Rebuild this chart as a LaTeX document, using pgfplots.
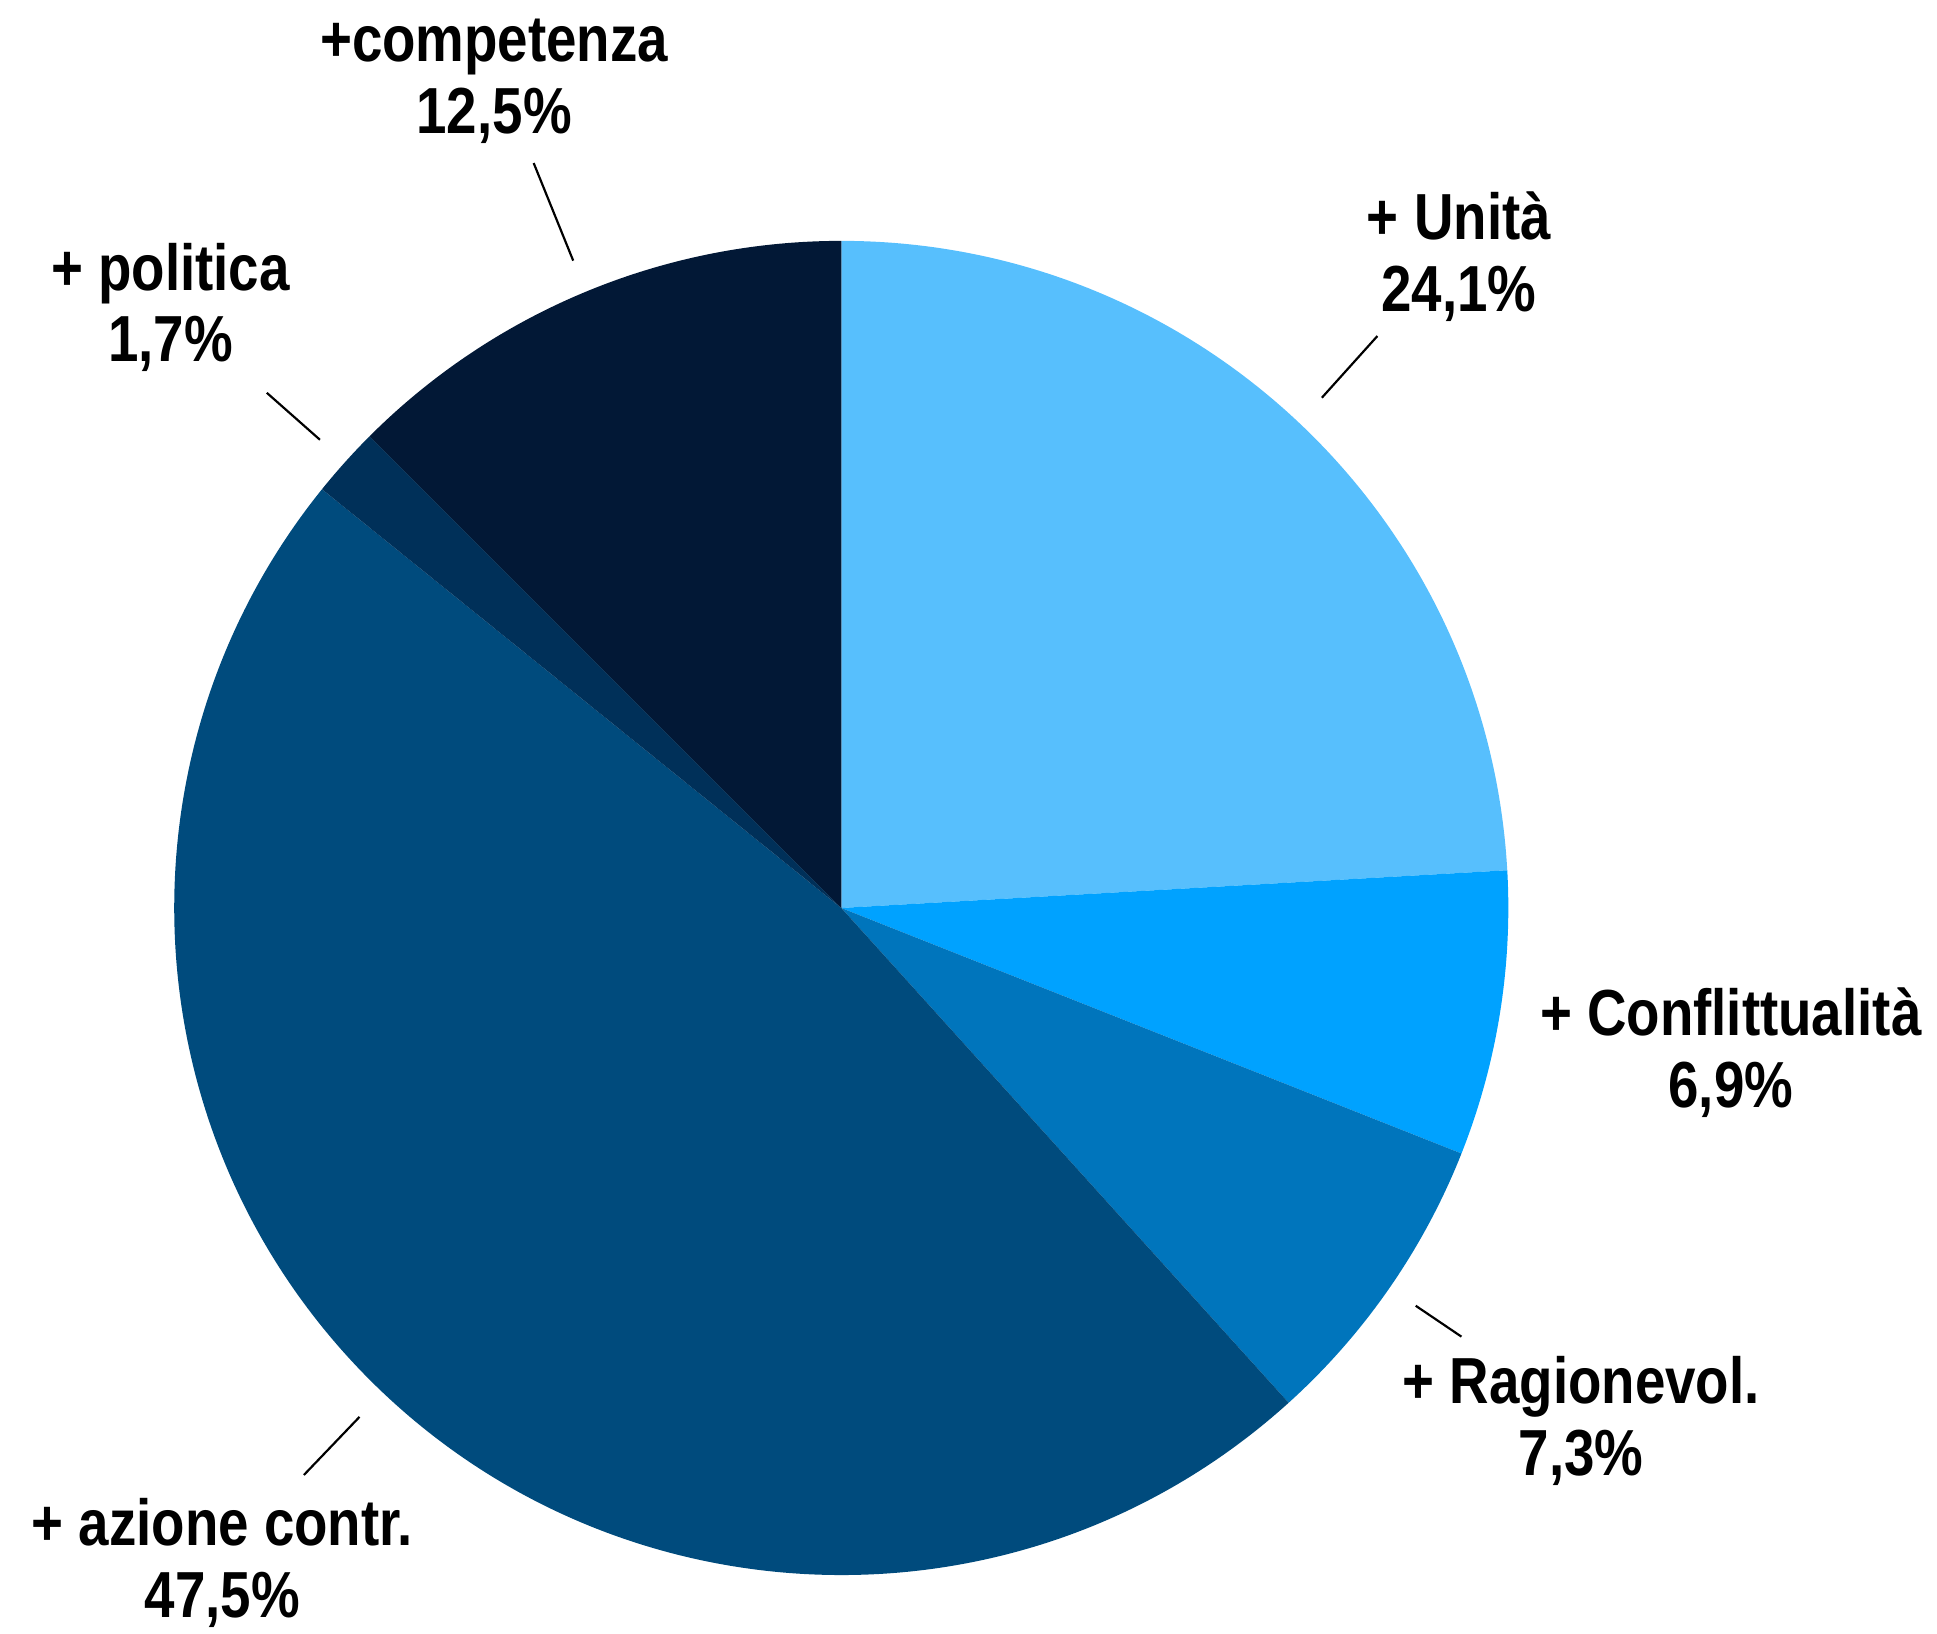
\documentclass[border=0pt]{standalone}
\usepackage{pgfplots}
\usepackage{pgfplotstable}
\pgfplotsset{compat=1.18}
\usepackage{fontspec}
\setmainfont{Liberation Sans}[FakeStretch=0.84]

\definecolor{pie0}{HTML}{57BFFD}
\definecolor{pie1}{HTML}{00A2FF}
\definecolor{pie2}{HTML}{0075BC}
\definecolor{pie3}{HTML}{004B7D}
\definecolor{pie4}{HTML}{003059}
\definecolor{pie5}{HTML}{021836}

% shares in percent, clockwise from 12 o'clock
\pgfplotstableread[col sep=comma]{
label,value
Unita,24.1
Conflittualita,6.9
Ragionevol,7.3
Azione,47.5
Politica,1.7
Competenza,12.5
}\pietable

% start / end angle of each slice from the cumulative share
\def\cum{0}
\pgfplotsforeachungrouped \i in {0,...,5}{%
  \pgfplotstablegetelem{\i}{value}\of\pietable
  \pgfmathsetmacro\pstart{90-3.6*\cum}%
  \pgfmathsetmacro\cum{\cum+\pgfplotsretval}%
  \pgfmathsetmacro\pstop{90-3.6*\cum}%
  \expandafter\xdef\csname pieS\i\endcsname{\pstart}%
  \expandafter\xdef\csname pieE\i\endcsname{\pstop}%
}

\tikzset{lbl/.style={font=\bfseries\fontsize{15}{16.5}\selectfont, align=center, inner sep=0pt}}

\begin{document}
\begin{tikzpicture}
\begin{axis}[
    width=15.68cm, height=13.22cm,
    scale only axis,
    xmin=0, xmax=1568,
    ymin=0, ymax=1322,
    hide axis,
    clip=false,
]
\pgfplotsinvokeforeach{0,...,5}{
  \fill[pie#1] (axis cs:681,587) -- ++(\csname pieS#1\endcsname:5.4cm)
    arc[start angle=\csname pieS#1\endcsname, end angle=\csname pieE#1\endcsname, radius=5.4cm] -- cycle;
}

\node[lbl] at (axis cs:400,1256) {+competenza\\12,5\%};
\node[lbl] at (axis cs:1181,1114) {+ Unità\\24,1\%};
\node[lbl] at (axis cs:138,1073) {+ politica\\1,7\%};
\node[lbl] at (axis cs:1401,470) {+ Conflittualità\\6,9\%};
\node[lbl] at (axis cs:1280,172) {+ Ragionevol.\\7,3\%};
\node[lbl] at (axis cs:180,57) {+ azione contr.\\47,5\%};

\draw[line width=0.5pt] (axis cs:432,1190) -- (axis cs:464,1111);
\draw[line width=0.5pt] (axis cs:1115,1050) -- (axis cs:1070,1000);
\draw[line width=0.5pt] (axis cs:216,1004) -- (axis cs:259,966);
\draw[line width=0.5pt] (axis cs:1146,265) -- (axis cs:1183,240);
\draw[line width=0.5pt] (axis cs:291,175) -- (axis cs:246,128);
\end{axis}
\pgfresetboundingbox
\path (0,0) rectangle (15.68cm,13.22cm);
\end{tikzpicture}
\end{document}
